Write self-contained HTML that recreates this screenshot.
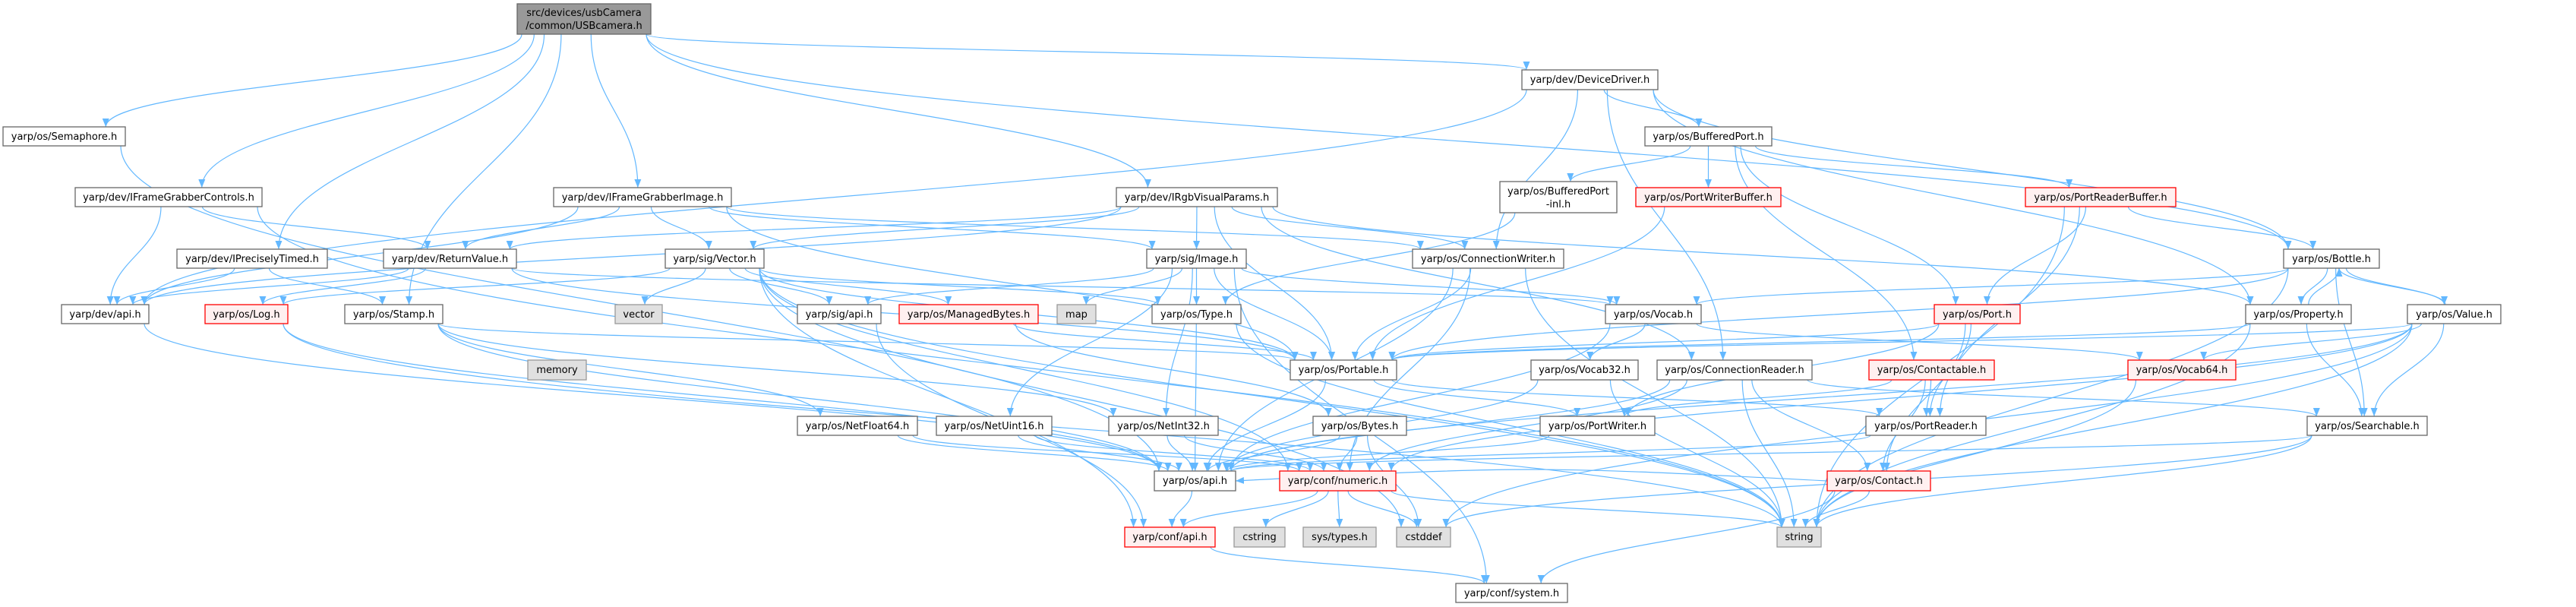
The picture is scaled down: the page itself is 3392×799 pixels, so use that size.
<!DOCTYPE html>
<html><head><meta charset="utf-8">
<style>
html,body{margin:0;padding:0;background:#fff;}
svg{display:block;}
text{font-family:"DejaVu Sans","Liberation Sans",sans-serif;font-size:13px;fill:#000;}
.n{fill:#fff;stroke:#666;stroke-width:1.3;}
.r{fill:#fff0f0;stroke:#ff0000;stroke-width:1.3;}
.g{fill:#e0e0e0;stroke:#999;stroke-width:1.3;}
.root{fill:#999;stroke:#666;stroke-width:1.3;}
</style></head>
<body>
<svg id="s" width="3392" height="799" viewBox="0 0 3392 799" xmlns="http://www.w3.org/2000/svg">
<defs><marker id="a" markerUnits="userSpaceOnUse" markerWidth="12" markerHeight="9" refX="11" refY="4.5" orient="auto"><path d="M0,0 L11,4.5 L0,9 z" fill="#63b8ff"/></marker></defs>
<g id="edges" fill="none" stroke="#63b8ff" stroke-width="1.2"></g>
<g id="nodes">
<rect class="root" x="681" y="5" width="176" height="40"/><text x="769" y="21" text-anchor="middle">src/devices/usbCamera</text><text x="769" y="38" text-anchor="middle">/common/USBcamera.h</text>
<rect class="n" x="4" y="167" width="161" height="25"/><text x="84.5" y="184" text-anchor="middle">yarp/os/Semaphore.h</text>
<rect class="n" x="99" y="247" width="246" height="25"/><text x="222" y="264" text-anchor="middle">yarp/dev/IFrameGrabberControls.h</text>
<rect class="n" x="233" y="328" width="198" height="25"/><text x="332" y="345" text-anchor="middle">yarp/dev/IPreciselyTimed.h</text>
<rect class="n" x="505" y="328" width="175" height="25"/><text x="592.5" y="345" text-anchor="middle">yarp/dev/ReturnValue.h</text>
<rect class="n" x="81" y="401" width="115" height="25"/><text x="138.5" y="418" text-anchor="middle">yarp/dev/api.h</text>
<rect class="r" x="270" y="401" width="109" height="25"/><text x="324.5" y="418" text-anchor="middle">yarp/os/Log.h</text>
<rect class="n" x="454" y="401" width="129" height="25"/><text x="518.5" y="418" text-anchor="middle">yarp/os/Stamp.h</text>
<rect class="g" x="695" y="474" width="77" height="26"/><text x="733.5" y="491" text-anchor="middle">memory</text>
<rect class="n" x="729" y="247" width="234" height="25"/><text x="846" y="264" text-anchor="middle">yarp/dev/IFrameGrabberImage.h</text>
<rect class="n" x="876" y="328" width="130" height="25"/><text x="941" y="345" text-anchor="middle">yarp/sig/Vector.h</text>
<rect class="g" x="810" y="401" width="62" height="25"/><text x="841" y="418" text-anchor="middle">vector</text>
<rect class="n" x="1050" y="401" width="110" height="25"/><text x="1105" y="418" text-anchor="middle">yarp/sig/api.h</text>
<rect class="r" x="1184" y="401" width="183" height="25"/><text x="1275.5" y="418" text-anchor="middle">yarp/os/ManagedBytes.h</text>
<rect class="n" x="1050" y="548" width="158" height="25"/><text x="1129" y="565" text-anchor="middle">yarp/os/NetFloat64.h</text>
<rect class="n" x="1233" y="548" width="152" height="25"/><text x="1309" y="565" text-anchor="middle">yarp/os/NetUint16.h</text>
<rect class="n" x="1470" y="247" width="212" height="25"/><text x="1576" y="264" text-anchor="middle">yarp/dev/IRgbVisualParams.h</text>
<rect class="n" x="1510" y="328" width="131" height="25"/><text x="1575.5" y="345" text-anchor="middle">yarp/sig/Image.h</text>
<rect class="g" x="1392" y="401" width="51" height="25"/><text x="1417.5" y="418" text-anchor="middle">map</text>
<rect class="n" x="1517" y="401" width="117" height="25"/><text x="1575.5" y="418" text-anchor="middle">yarp/os/Type.h</text>
<rect class="n" x="1699" y="474" width="140" height="26"/><text x="1769" y="491" text-anchor="middle">yarp/os/Portable.h</text>
<rect class="n" x="1460" y="548" width="144" height="25"/><text x="1532" y="565" text-anchor="middle">yarp/os/NetInt32.h</text>
<rect class="n" x="1729" y="548" width="123" height="25"/><text x="1790.5" y="565" text-anchor="middle">yarp/os/Bytes.h</text>
<rect class="n" x="1520" y="620" width="107" height="26"/><text x="1573.5" y="637" text-anchor="middle">yarp/os/api.h</text>
<rect class="r" x="1685" y="620" width="153" height="26"/><text x="1761.5" y="637" text-anchor="middle">yarp/conf/numeric.h</text>
<rect class="r" x="1481" y="694" width="119" height="26"/><text x="1540.5" y="711" text-anchor="middle">yarp/conf/api.h</text>
<rect class="g" x="1625" y="694" width="67" height="26"/><text x="1658.5" y="711" text-anchor="middle">cstring</text>
<rect class="g" x="1716" y="694" width="96" height="26"/><text x="1764" y="711" text-anchor="middle">sys/types.h</text>
<rect class="g" x="1839" y="694" width="71" height="26"/><text x="1874.5" y="711" text-anchor="middle">cstddef</text>
<rect class="n" x="1917" y="768" width="147" height="25"/><text x="1990.5" y="785" text-anchor="middle">yarp/conf/system.h</text>
<rect class="n" x="1860" y="328" width="199" height="25"/><text x="1959.5" y="345" text-anchor="middle">yarp/os/ConnectionWriter.h</text>
<rect class="n" x="1975" y="239" width="154" height="41"/><text x="2052" y="256" text-anchor="middle">yarp/os/BufferedPort</text><text x="2052" y="273" text-anchor="middle">-inl.h</text>
<rect class="n" x="2004" y="92" width="179" height="26"/><text x="2093.5" y="109" text-anchor="middle">yarp/dev/DeviceDriver.h</text>
<rect class="n" x="2166" y="167" width="167" height="25"/><text x="2249.5" y="184" text-anchor="middle">yarp/os/BufferedPort.h</text>
<rect class="r" x="2154" y="247" width="191" height="25"/><text x="2249.5" y="264" text-anchor="middle">yarp/os/PortWriterBuffer.h</text>
<rect class="r" x="2667" y="247" width="198" height="25"/><text x="2766" y="264" text-anchor="middle">yarp/os/PortReaderBuffer.h</text>
<rect class="n" x="2114" y="401" width="126" height="25"/><text x="2177" y="418" text-anchor="middle">yarp/os/Vocab.h</text>
<rect class="r" x="2547" y="401" width="113" height="25"/><text x="2603.5" y="418" text-anchor="middle">yarp/os/Port.h</text>
<rect class="n" x="2016" y="474" width="141" height="26"/><text x="2086.5" y="491" text-anchor="middle">yarp/os/Vocab32.h</text>
<rect class="n" x="2182" y="474" width="204" height="26"/><text x="2284" y="491" text-anchor="middle">yarp/os/ConnectionReader.h</text>
<rect class="r" x="2461" y="474" width="165" height="26"/><text x="2543.5" y="491" text-anchor="middle">yarp/os/Contactable.h</text>
<rect class="n" x="2028" y="548" width="151" height="25"/><text x="2103.5" y="565" text-anchor="middle">yarp/os/PortWriter.h</text>
<rect class="n" x="2457" y="548" width="158" height="25"/><text x="2536" y="565" text-anchor="middle">yarp/os/PortReader.h</text>
<rect class="r" x="2406" y="620" width="136" height="26"/><text x="2474" y="637" text-anchor="middle">yarp/os/Contact.h</text>
<rect class="g" x="2340" y="694" width="58" height="26"/><text x="2369" y="711" text-anchor="middle">string</text>
<rect class="n" x="3007" y="328" width="126" height="25"/><text x="3070" y="345" text-anchor="middle">yarp/os/Bottle.h</text>
<rect class="n" x="2957" y="401" width="139" height="25"/><text x="3026.5" y="418" text-anchor="middle">yarp/os/Property.h</text>
<rect class="n" x="3170" y="401" width="123" height="25"/><text x="3231.5" y="418" text-anchor="middle">yarp/os/Value.h</text>
<rect class="r" x="2802" y="474" width="142" height="26"/><text x="2873" y="491" text-anchor="middle">yarp/os/Vocab64.h</text>
<rect class="n" x="3038" y="548" width="158" height="25"/><text x="3117" y="565" text-anchor="middle">yarp/os/Searchable.h</text>
</g>
</svg>
<script>
var N={root:[681,5,857,45],sem:[4,167,165,192],ifgc:[99,247,345,272],ipt:[233,328,431,353],rv:[505,328,680,353],dapi:[81,401,196,426],log:[270,401,379,426],stamp:[454,401,583,426],memory:[695,474,772,500],ifgi:[729,247,963,272],vec:[876,328,1006,353],vector:[810,401,872,426],sapi:[1050,401,1160,426],mb:[1184,401,1367,426],nf64:[1050,548,1208,573],nu16:[1233,548,1385,573],irgb:[1470,247,1682,272],img:[1510,328,1641,353],map:[1392,401,1443,426],type:[1517,401,1634,426],port:[1699,474,1839,500],ni32:[1460,548,1604,573],bytes:[1729,548,1852,573],oapi:[1520,620,1627,646],num:[1685,620,1838,646],capi:[1481,694,1600,720],cstring:[1625,694,1692,720],systypes:[1716,694,1812,720],cstddef:[1839,694,1910,720],sys:[1917,768,2064,793],cw:[1860,328,2059,353],bpinl:[1975,239,2129,280],dd:[2004,92,2183,118],bp:[2166,167,2333,192],pwb:[2154,247,2345,272],prb:[2667,247,2865,272],vocab:[2114,401,2240,426],portH:[2547,401,2660,426],v32:[2016,474,2157,500],cr:[2182,474,2386,500],contactable:[2461,474,2626,500],pw:[2028,548,2179,573],pr:[2457,548,2615,573],contact:[2406,620,2542,646],string:[2340,694,2398,720],bottle:[3007,328,3133,353],prop:[2957,401,3096,426],value:[3170,401,3293,426],v64:[2802,474,2944,500],search:[3038,548,3196,573]};
var E="root sem|root ifgc|root ipt|root stamp|root ifgi|root irgb|root dd|root bottle|sem oapi|ifgc dapi|ifgc rv|ifgc string|ipt dapi|ipt stamp|rv dapi|rv log|rv port|rv vocab|dapi oapi|log oapi|log string|stamp oapi|stamp port|stamp ni32|stamp nf64|ifgi dapi|ifgi rv|ifgi vec|ifgi img|ifgi port|ifgi cw|irgb dapi|irgb rv|irgb vec|irgb img|irgb port|irgb cw|irgb cr|irgb prop|vec vector|vec sapi|vec mb|vec type|vec log|vec port|vec cstddef|vec string|vec num|vec capi|img sapi|img map|img type|img port|img nu16|img ni32|img vocab|img sys|sapi capi|mb bytes|mb port|type oapi|type string|port oapi|port pr|port pw|nf64 oapi|nf64 num|nu16 oapi|nu16 num|ni32 oapi|ni32 num|bytes oapi|bytes cstddef|bytes num|oapi capi|num capi|num cstring|num systypes|num cstddef|num string|capi sys|cw oapi|cw num|cw port|cw string|dd dapi|dd bp|dd cw|dd cr|dd prop|dd bottle|bp bpinl|bp pwb|bp prb|bp portH|bp contactable|bpinl type|pwb port|prb portH|prb bottle|prb pr|prb string|vocab v32|vocab v64|vocab oapi|portH port|portH pw|portH pr|portH contact|v32 oapi|v32 string|cr oapi|cr num|cr string|cr contact|cr search|contactable pr|contactable pw|contactable contact|pw oapi|pr oapi|contact string|contact sys|contact oapi|bottle port|bottle prop|bottle search|bottle value|bottle string|bottle vocab|prop bottle|prop search|prop string|prop port|value bottle|value search|value v64|value string|value cstddef|value port|value oapi|value num|v64 string|search oapi|search string|search cstddef";
var g=document.getElementById('edges'),ns="http://www.w3.org/2000/svg";
function cl(v,a,b){return Math.max(a+6,Math.min(b-6,v));}
E.split('|').forEach(function(p){var q=p.split(' '),s=N[q[0]],t=N[q[1]];
var scx=(s[0]+s[2])/2,tcx=(t[0]+t[2])/2,d;
if(t[1]>s[3]+2){var sx=cl(scx+(tcx-scx)*0.12,s[0],s[2]),sy=s[3],tx=cl(tcx+(scx-tcx)*0.08,t[0],t[2]),ty=t[1],dy=ty-sy;
d="M"+sx+","+sy+" C"+sx+","+(sy+dy*0.45)+" "+tx+","+(ty-dy*0.45)+" "+tx+","+ty;}
else if(t[3]<s[1]-2){var sx=cl(scx+(tcx-scx)*0.12+8,s[0],s[2]),sy=s[1],tx=cl(tcx+10,t[0],t[2]),ty=t[3],dy=sy-ty;
d="M"+sx+","+sy+" C"+sx+","+(sy-dy*0.45)+" "+tx+","+(ty+dy*0.45)+" "+tx+","+ty;}
else{var sy=(s[1]+s[3])/2,ty=(t[1]+t[3])/2,sx,tx;if(tcx>scx){sx=s[2];tx=t[0];}else{sx=s[0];tx=t[2];}
d="M"+sx+","+sy+" C"+((sx+tx)/2)+","+(sy-20)+" "+((sx+tx)/2)+","+(ty-20)+" "+tx+","+ty;}
var e=document.createElementNS(ns,'path');e.setAttribute('d',d);e.setAttribute('marker-end','url(#a)');g.appendChild(e);});
</script>
</body></html>
